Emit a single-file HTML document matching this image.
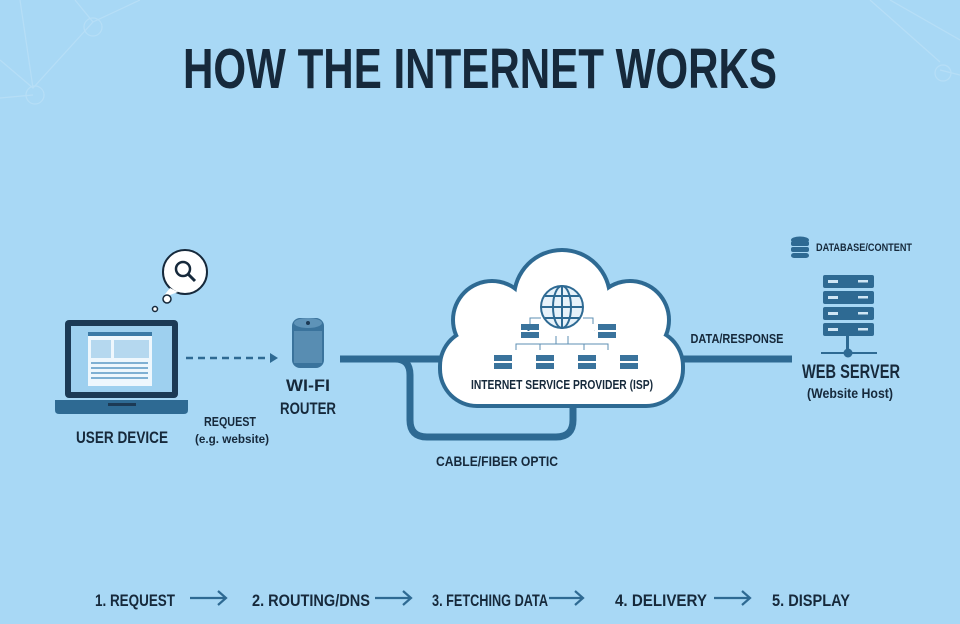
<!DOCTYPE html>
<html><head><meta charset="utf-8"><style>
html,body{margin:0;padding:0;background:#a8d8f5;}
svg{display:block;}
text{font-family:"Liberation Sans",sans-serif;font-weight:bold;fill:#16293b;}
</style></head><body>
<svg width="960" height="624" viewBox="0 0 960 624" xmlns="http://www.w3.org/2000/svg">
<rect width="960" height="624" fill="#a8d8f5"/>
<g stroke="#bde1f7" stroke-width="1.2" fill="none" opacity="0.7">
<path d="M20 0 L33 88 M0 60 L33 88 L93 22 L140 0 M93 22 L75 0 M0 98 L33 95"/>
<circle cx="35" cy="95" r="9"/><circle cx="93" cy="27" r="9"/>
<path d="M870 0 L940 62 M890 0 L960 40 M960 75 L940 70"/>
<circle cx="943" cy="73" r="8"/>
</g>
<text x="183" y="88" font-size="57" textLength="594" lengthAdjust="spacingAndGlyphs">HOW THE INTERNET WORKS</text>

<circle cx="185" cy="272" r="22" fill="#fff" stroke="#16293b" stroke-width="2"/>
<path d="M170 288 L162 298 L178 292 Z" fill="#fff"/>
<circle cx="167" cy="299" r="4" fill="#fff" stroke="#16293b" stroke-width="1.5"/>
<circle cx="155" cy="309" r="2.5" fill="#fff" stroke="#16293b" stroke-width="1.5"/>
<circle cx="183" cy="269" r="7" fill="none" stroke="#16293b" stroke-width="2.5"/>
<line x1="188" y1="274" x2="195" y2="281" stroke="#16293b" stroke-width="3"/>

<rect x="65" y="320" width="113" height="78" rx="4" fill="#1c3a55"/>
<rect x="71" y="326" width="101" height="66" fill="#9ed0ef"/>
<rect x="88" y="332" width="64" height="54" fill="#eef7fd"/>
<rect x="88" y="332" width="64" height="4" fill="#3b7aa6"/>
<rect x="91" y="340" width="20" height="18" fill="#b5d8ef"/><rect x="114" y="340" width="35" height="18" fill="#b5d8ef"/>
<g fill="#7fb0d3"><rect x="91" y="362" width="57" height="2"/><rect x="91" y="367" width="57" height="2"/><rect x="91" y="372" width="57" height="2"/><rect x="91" y="377" width="57" height="2"/></g>
<path d="M55 400 H188 V410 Q188 414 184 414 H59 Q55 414 55 410 Z" fill="#2e6a93"/>
<rect x="108" y="403" width="28" height="3" fill="#1c3a55"/>
<text x="122" y="443" font-size="17" text-anchor="middle" textLength="92" lengthAdjust="spacingAndGlyphs">USER DEVICE</text>

<line x1="186" y1="358" x2="270" y2="358" stroke="#2e6a93" stroke-width="2.5" stroke-dasharray="7 5"/>
<path d="M270 353 L278 358 L270 363 Z" fill="#2e6a93"/>
<text x="230" y="426" font-size="13" text-anchor="middle" textLength="52" lengthAdjust="spacingAndGlyphs">REQUEST</text>
<text x="232" y="443" font-size="12" text-anchor="middle" font-weight="normal" textLength="74" lengthAdjust="spacingAndGlyphs">(e.g. website)</text>

<rect x="292" y="318" width="32" height="50" rx="8" fill="#3a739c"/>
<ellipse cx="308" cy="323" rx="14" ry="5" fill="#5e93b8"/>
<circle cx="308" cy="323" r="2" fill="#1c3a55"/>
<rect x="294" y="331" width="28" height="32" fill="#6d9fc2" opacity="0.6"/>
<text x="308" y="391" font-size="17" text-anchor="middle" textLength="44" lengthAdjust="spacingAndGlyphs">WI-FI</text>
<text x="308" y="414" font-size="17" text-anchor="middle" textLength="56" lengthAdjust="spacingAndGlyphs">ROUTER</text>

<g stroke="#2e6a93" stroke-width="7" fill="none">
<line x1="340" y1="359" x2="470" y2="359"/>
<path d="M395 359 Q410 359 410 375 V420 Q410 437 427 437 H556 Q573 437 573 420 V395"/>
<line x1="660" y1="359" x2="792" y2="359"/>
</g>

<g fill="#2e6a93">
<circle cx="492" cy="320" r="41"/><circle cx="562" cy="298" r="50"/><circle cx="630" cy="320" r="41"/>
<rect x="438" y="327" width="247" height="81" rx="39"/>
</g>
<g fill="#ffffff">
<circle cx="492" cy="320" r="37"/><circle cx="562" cy="298" r="46"/><circle cx="630" cy="320" r="37"/>
<rect x="442" y="331" width="239" height="73" rx="35"/>
</g>
<g stroke="#2e6a93" stroke-width="2" fill="none">
<circle cx="562" cy="307" r="21" fill="#e7f2fa"/>
<ellipse cx="562" cy="307" rx="9" ry="21"/><line x1="562" y1="286" x2="562" y2="328"/>
<line x1="541" y1="307" x2="583" y2="307"/><path d="M545 296 H579 M545 318 H579"/>
</g>
<g stroke="#5d8fb3" stroke-width="1" fill="none">
<path d="M530 324 V318 H541 M593 324 V318 H583"/>
<path d="M516 350 V344 H608 V350 M556 344 V336 M568 344 V336 M540 350 V344 M584 350 V344"/>
</g>
<g fill="#3a739c">
<rect x="521" y="324" width="18" height="6"/><rect x="521" y="332" width="18" height="6"/>
<rect x="598" y="324" width="18" height="6"/><rect x="598" y="332" width="18" height="6"/>
<rect x="494" y="355" width="18" height="6"/><rect x="494" y="363" width="18" height="6"/>
<rect x="536" y="355" width="18" height="6"/><rect x="536" y="363" width="18" height="6"/>
<rect x="578" y="355" width="18" height="6"/><rect x="578" y="363" width="18" height="6"/>
<rect x="620" y="355" width="18" height="6"/><rect x="620" y="363" width="18" height="6"/>
</g>
<text x="562" y="389" font-size="12.5" text-anchor="middle" textLength="182" lengthAdjust="spacingAndGlyphs">INTERNET SERVICE PROVIDER (ISP)</text>
<text x="737" y="343" font-size="12.5" text-anchor="middle" textLength="93" lengthAdjust="spacingAndGlyphs">DATA/RESPONSE</text>

<g fill="#2e6a93">
<ellipse cx="800" cy="240" rx="9" ry="3.5"/>
<rect x="791" y="241" width="18" height="5" rx="2"/><rect x="791" y="247" width="18" height="5" rx="2"/><rect x="791" y="253" width="18" height="5" rx="3"/>
<rect x="823" y="275" width="51" height="13" rx="2"/><rect x="823" y="291" width="51" height="13" rx="2"/>
<rect x="823" y="307" width="51" height="13" rx="2"/><rect x="823" y="323" width="51" height="13" rx="2"/>
<rect x="846" y="336" width="3" height="17"/><rect x="821" y="352" width="56" height="2"/>
<circle cx="848" cy="353" r="4.5"/>
</g>
<g fill="#cfe6f5">
<rect x="828" y="280" width="10" height="3"/><rect x="858" y="280" width="10" height="2.5"/>
<rect x="828" y="296" width="10" height="3"/><rect x="858" y="296" width="10" height="2.5"/>
<rect x="828" y="312" width="10" height="3"/><rect x="858" y="312" width="10" height="2.5"/>
<rect x="828" y="328" width="10" height="3"/><rect x="858" y="328" width="10" height="2.5"/>
</g>
<text x="816" y="251" font-size="11" textLength="96" lengthAdjust="spacingAndGlyphs">DATABASE/CONTENT</text>
<text x="851" y="378" font-size="19" text-anchor="middle" textLength="98" lengthAdjust="spacingAndGlyphs">WEB SERVER</text>
<text x="850" y="398" font-size="14" text-anchor="middle" font-weight="normal" textLength="86" lengthAdjust="spacingAndGlyphs">(Website Host)</text>

<text x="497" y="466" font-size="14" text-anchor="middle" textLength="122" lengthAdjust="spacingAndGlyphs">CABLE/FIBER OPTIC</text>

<g font-size="17">
<text x="95" y="606" textLength="80" lengthAdjust="spacingAndGlyphs">1. REQUEST</text>
<text x="252" y="606" textLength="118" lengthAdjust="spacingAndGlyphs">2. ROUTING/DNS</text>
<text x="432" y="606" textLength="116" lengthAdjust="spacingAndGlyphs">3. FETCHING DATA</text>
<text x="615" y="606" textLength="92" lengthAdjust="spacingAndGlyphs">4. DELIVERY</text>
<text x="772" y="606" textLength="78" lengthAdjust="spacingAndGlyphs">5. DISPLAY</text>
</g>
<g stroke="#2e6a93" stroke-width="2.2" fill="none">
<path d="M190 598 H225 M218 591 L226 598 L218 605"/>
<path d="M375 598 H410 M403 591 L411 598 L403 605"/>
<path d="M549 598 H582 M575 591 L583 598 L575 605"/>
<path d="M714 598 H749 M742 591 L750 598 L742 605"/>
</g>
</svg>
</body></html>
